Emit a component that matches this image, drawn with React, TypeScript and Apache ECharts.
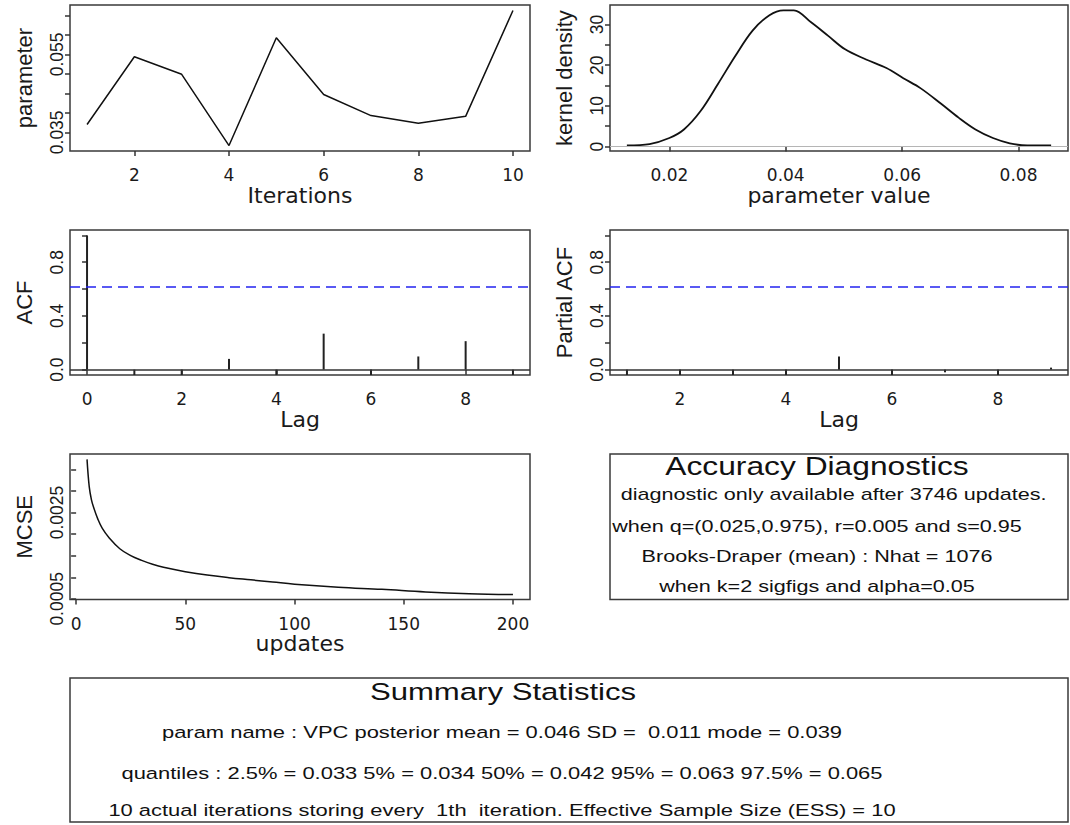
import React, { useEffect, useRef } from "react";
import * as echarts from "echarts";

// ---------- data ----------
const iterations = [1, 2, 3, 4, 5, 6, 7, 8, 9, 10];
const traceValues = [0.037, 0.0544, 0.0499, 0.0316, 0.0593, 0.0447, 0.0393, 0.0373, 0.0391, 0.0663];
const traceXTicks = [2, 4, 6, 8, 10];
const traceYTicks = [0.035, 0.04, 0.045, 0.05, 0.055, 0.06, 0.065];
const traceYLabels = [0.035, 0.055];

const densityX = [0.0127, 0.0166, 0.02, 0.0225, 0.0254, 0.0284, 0.0313, 0.0343, 0.0372, 0.0396, 0.0414, 0.0443, 0.0473, 0.0502, 0.0538, 0.0573, 0.0602, 0.0632, 0.0667, 0.0697, 0.0726, 0.0756, 0.0785, 0.0815, 0.0856];
const densityY = [0.25, 0.6, 2.1, 4.2, 8.8, 15.5, 22.2, 28.5, 32.3, 33.5, 33.5, 30.6, 27.2, 23.9, 21.4, 19.3, 16.8, 14.3, 10.5, 7.1, 4.2, 2.1, 0.8, 0.25, 0.25];
const densityXTicks = [0.02, 0.04, 0.06, 0.08];
const densityYTicks = [0, 5, 10, 15, 20, 25, 30];
const densityYLabels = [0, 10, 20, 30];

const acfLags = [0, 1, 2, 3, 4, 5, 6, 7, 8, 9];
const acfValues = [1.0, -0.25, -0.3, 0.08, -0.35, 0.268, -0.2, 0.098, 0.212, -0.15];
const pacfLags = [1, 2, 3, 4, 5, 6, 7, 8, 9];
const pacfValues = [-0.25, -0.2, -0.15, -0.3, 0.098, -0.2, -0.02, -0.1, 0.015];
const acfBound = 0.62;
const acfYTicks = [0, 0.2, 0.4, 0.6, 0.8, 1.0];
const acfYLabels = [0, 0.4, 0.8];
const acfXTicks = [0, 2, 4, 6, 8];
const pacfXTicks = [2, 4, 6, 8];

const mcseUpdates = [5, 6, 7, 8, 10, 12, 15, 20, 25, 30, 35, 40, 50, 60, 70, 80, 90, 100, 120, 140, 160, 180, 200];
const mcseValues = [0.00373, 0.0031, 0.0028, 0.00262, 0.00234, 0.00213, 0.00192, 0.00166, 0.0015, 0.00139, 0.0013, 0.00123, 0.00113, 0.00105, 0.00099, 0.00094, 0.00089, 0.00084, 0.00077, 0.00072, 0.00066, 0.00062, 0.0006];
const mcseXTicks = [0, 50, 100, 150, 200];
const mcseYTicks = [0.0005, 0.001, 0.0015, 0.002, 0.0025, 0.003, 0.0035];
const mcseYLabels = [0.0005, 0.0025];

const accuracyTitle = "Accuracy Diagnostics";
const accuracyLines = [
  "diagnostic only available after 3746 updates.",
  "when q=(0.025,0.975), r=0.005 and s=0.95",
  "Brooks-Draper (mean) : Nhat = 1076",
  "when k=2 sigfigs and alpha=0.05",
];
const summaryTitle = "Summary Statistics";
const summaryLines = [
  "param name : VPC posterior mean = 0.046 SD =  0.011 mode = 0.039",
  "quantiles : 2.5% = 0.033 5% = 0.034 50% = 0.042 95% = 0.063 97.5% = 0.065",
  "10 actual iterations storing every  1th  iteration. Effective Sample Size (ESS) = 10",
];

// ---------- styles ----------
const TEXT = "#1a1a1a";
const LIB = "'Liberation Sans', Arial, sans-serif";
const DJV = "'DejaVu Sans', sans-serif";
const BOX = "#3a3a3a";

const grids = [
  { left: 70, top: 5, width: 460, height: 146 },
  { left: 610, top: 5, width: 458, height: 146 },
  { left: 70, top: 230, width: 460, height: 145 },
  { left: 610, top: 230, width: 458, height: 145 },
  { left: 70, top: 454, width: 460, height: 145.5 },
].map((g) => ({ ...g, show: true, borderColor: BOX, borderWidth: 1.5, backgroundColor: "transparent" }));

function xAxis(gridIndex: number, min: number, max: number, ticks: number[], labels: number[], fmt: (v: number) => string, name: string) {
  return {
    type: "value",
    gridIndex,
    min,
    max,
    name,
    nameLocation: "middle",
    nameGap: 30,
    nameTextStyle: { fontFamily: DJV, fontSize: 22, color: TEXT },
    axisLine: { show: false },
    splitLine: { show: false },
    axisTick: { show: true, length: 5, customValues: ticks, lineStyle: { color: "#333", width: 1.5 } },
    axisLabel: { customValues: labels, formatter: fmt, margin: 15.5, fontFamily: DJV, fontSize: 17, color: TEXT },
  };
}

function yAxis(gridIndex: number, min: number, max: number, ticks: number[], labels: number[], fmt: (v: number) => string, name: string) {
  return {
    type: "value",
    gridIndex,
    min,
    max,
    name,
    nameLocation: "middle",
    nameGap: 35,
    nameTextStyle: { fontFamily: LIB, fontSize: 22, color: TEXT },
    axisLine: { show: false },
    splitLine: { show: false },
    axisTick: { show: true, length: 5, customValues: ticks, lineStyle: { color: "#333", width: 1.5 } },
    axisLabel: { customValues: labels, formatter: fmt, rotate: 90, margin: 4, fontFamily: LIB, fontSize: 17.5, color: TEXT },
  };
}

function boxText(text: string, x: number, y: number, size: number, scale: number, align = "center") {
  return {
    type: "text",
    x,
    y,
    scaleX: scale,
    silent: true,
    style: {
      text,
      fontSize: size,
      fontFamily: LIB,
      fill: "#111",
      align,
      verticalAlign: "middle",
      textAlign: align,
      textVerticalAlign: "middle",
    },
  };
}

export default function App() {
  const ref = useRef<HTMLDivElement>(null);
  useEffect(() => {
    if (!ref.current) return;
    const chart = echarts.init(ref.current, undefined, { renderer: "svg" });
    const line = { color: "#111", width: 1.5 };
    chart.setOption({
      animation: false,
      backgroundColor: "#fff",
      grid: grids,
      xAxis: [
        xAxis(0, 0.64, 10.36, traceXTicks, traceXTicks, (v) => String(v), "Iterations"),
        xAxis(1, 0.0098, 0.0885, densityXTicks, densityXTicks, (v) => v.toFixed(2), "parameter value"),
        xAxis(2, -0.36, 9.36, acfXTicks, acfXTicks, (v) => String(v), "Lag"),
        xAxis(3, 0.68, 9.32, pacfXTicks, pacfXTicks, (v) => String(v), "Lag"),
        xAxis(4, -2.8, 207.8, mcseXTicks, mcseXTicks, (v) => String(v), "updates"),
      ],
      yAxis: [
        yAxis(0, 0.0302, 0.0677, traceYTicks, traceYLabels, (v) => v.toFixed(3), "parameter"),
        yAxis(1, -1.1, 34.8, densityYTicks, densityYLabels, (v) => String(v), "kernel density"),
        yAxis(2, -0.04, 1.04, acfYTicks, acfYLabels, (v) => v.toFixed(1), "ACF"),
        yAxis(3, -0.04, 1.04, acfYTicks, acfYLabels, (v) => v.toFixed(1), "Partial ACF"),
        yAxis(4, 0.000485, 0.003855, mcseYTicks, mcseYLabels, (v) => v.toFixed(4), "MCSE"),
      ],
      series: [
        {
          type: "line",
          xAxisIndex: 0,
          yAxisIndex: 0,
          data: iterations.map((x, i) => [x, traceValues[i]]),
          symbol: "none",
          lineStyle: line,
        },
        {
          type: "line",
          xAxisIndex: 1,
          yAxisIndex: 1,
          data: densityX.map((x, i) => [x, densityY[i]]),
          symbol: "none",
          smooth: 0.35,
          lineStyle: { color: "#111", width: 1.8 },
          markLine: {
            silent: true,
            symbol: ["none", "none"],
            label: { show: false },
            data: [{ yAxis: 0, lineStyle: { color: "#b5b5b5", width: 1, type: "solid" } }],
          },
          z: 3,
        },
        {
          type: "bar",
          xAxisIndex: 2,
          yAxisIndex: 2,
          data: acfLags.map((x, i) => [x, acfValues[i]]),
          barWidth: 2,
          itemStyle: { color: "#222" },
          markLine: {
            silent: true,
            symbol: ["none", "none"],
            label: { show: false },
            data: [
              { yAxis: 0, lineStyle: { color: "#333", width: 1.5, type: "solid" } },
              { yAxis: acfBound, lineStyle: { color: "#2323f0", width: 1.5, type: [10, 6] } },
            ],
          },
        },
        {
          type: "bar",
          xAxisIndex: 3,
          yAxisIndex: 3,
          data: pacfLags.map((x, i) => [x, pacfValues[i]]),
          barWidth: 2,
          itemStyle: { color: "#222" },
          markLine: {
            silent: true,
            symbol: ["none", "none"],
            label: { show: false },
            data: [
              { yAxis: 0, lineStyle: { color: "#333", width: 1.5, type: "solid" } },
              { yAxis: acfBound, lineStyle: { color: "#2323f0", width: 1.5, type: [10, 6] } },
            ],
          },
        },
        {
          type: "line",
          xAxisIndex: 4,
          yAxisIndex: 4,
          data: mcseUpdates.map((x, i) => [x, mcseValues[i]]),
          symbol: "none",
          smooth: 0.4,
          lineStyle: line,
        },
      ],
      graphic: [
        {
          type: "rect",
          shape: { x: 610, y: 454, width: 458, height: 145.5 },
          style: { fill: "none", stroke: BOX, lineWidth: 1.5 },
          silent: true,
        },
        boxText(accuracyTitle, 817, 466, 25, 1.27),
        boxText(accuracyLines[0], 620.7, 494, 17, 1.27, "left"),
        boxText(accuracyLines[1], 817, 526, 17, 1.27),
        boxText(accuracyLines[2], 817, 556, 17, 1.27),
        boxText(accuracyLines[3], 817, 586, 17, 1.27),
        {
          type: "rect",
          shape: { x: 70, y: 678, width: 998, height: 144 },
          style: { fill: "none", stroke: BOX, lineWidth: 1.5 },
          silent: true,
        },
        boxText(summaryTitle, 503, 692, 24.5, 1.27),
        boxText(summaryLines[0], 502, 731.5, 17, 1.29),
        boxText(summaryLines[1], 502, 772.5, 17, 1.29),
        boxText(summaryLines[2], 502, 809.5, 17, 1.29),
      ],
    });
    return () => chart.dispose();
  }, []);
  return (
    <div
      ref={ref}
      style={{ position: "fixed", left: 0, top: 0, width: 1070, height: 825, background: "#fff" }}
    />
  );
}
